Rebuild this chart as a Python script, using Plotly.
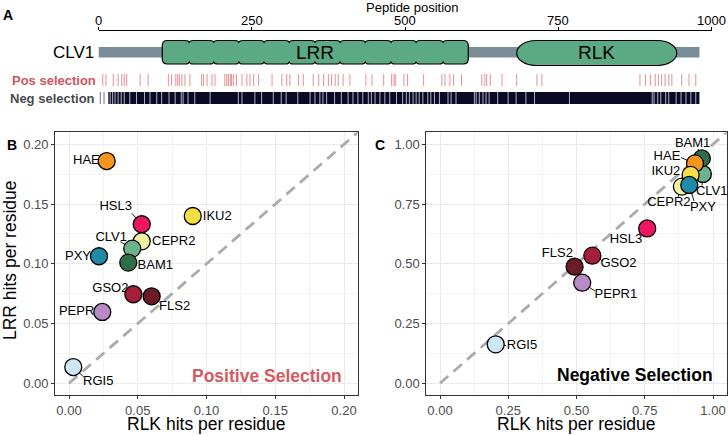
import plotly.graph_objects as go

W, H = 728, 436
FONT = "Liberation Sans, Arial, sans-serif"

# ---------------- data ----------------
genes = ["RGI5", "PEPR1", "FLS2", "GSO2", "HSL3", "CEPR2", "CLV1", "BAM1", "HAE", "IKU2", "PXY"]
gene_colors = ["#CFE6F6", "#B98BC6", "#6B1A26", "#A61F38", "#EF1560", "#F4F1A2",
               "#6CB38B", "#2F6E46", "#F6961C", "#F8DE45", "#1F8BA6"]

pos_rlk = [0.0031, 0.0242, 0.0601, 0.0468, 0.0529, 0.0529, 0.0460, 0.0431, 0.0274, 0.0900, 0.0218]
pos_lrr = [0.0136, 0.0597, 0.0728, 0.0745, 0.1331, 0.1188, 0.1127, 0.1010, 0.1860, 0.1400, 0.1063]

neg_rlk = [0.204, 0.521, 0.493, 0.558, 0.759, 0.886, 0.963, 0.959, 0.934, 0.918, 0.913]
neg_lrr = [0.163, 0.421, 0.488, 0.534, 0.648, 0.823, 0.876, 0.941, 0.920, 0.872, 0.830]

b_ticks = [0.00, 0.05, 0.10, 0.15, 0.20]
c_ticks = [0.00, 0.25, 0.50, 0.75, 1.00]

# panel A: CLV1 protein
protein_name = "CLV1"
protein_length = 980
lrr_domain = (104, 603)
lrr_repeat_junctions = [148, 188, 229, 270, 311, 353, 394, 435, 477, 518, 562]
rlk_domain = (682, 943)
peptide_ticks = [0, 250, 500, 750, 1000]

pos_sites = [7, 12, 24, 32, 38, 42, 46, 68, 81, 114, 119, 126, 129, 132, 136, 141, 149,
             168, 171, 177, 185, 190, 206, 209, 212, 215, 217, 220, 225, 234, 242, 247,
             253, 261, 283, 299, 307, 312, 326, 334, 350, 359, 367, 375, 380, 386, 391,
             399, 410, 436, 446, 465, 478, 482, 484, 498, 504, 530, 560, 565, 573, 579,
             592, 625, 630, 633, 639, 658, 682, 715, 723, 883, 892, 900, 908, 913, 918,
             924, 930, 935, 951, 963, 974]

neg_single = [3, 9]
neg_span = (16, 980)
neg_gaps = [19, 23, 27, 32, 37, 42, 51, 62, 75, 84, 95, 103, 115, 125, 135, 138, 146, 157,
            182, 228, 234, 255, 266, 285, 298, 306, 325, 345, 353, 361, 366, 372, 385, 396,
            407, 415, 423, 431, 440, 445, 451, 459, 467, 475, 486, 496, 502, 507, 513, 518,
            523, 529, 537, 542, 548, 556, 570, 575, 583, 613, 616, 621, 627, 632, 637, 651,
            668, 681, 697, 711, 768, 903, 906, 912, 917, 925, 930, 942, 950, 958, 966, 974]

# ---------------- layout geometry (pixels) ----------------
B_X = (55.25, 357.75); B_RANGE = (-0.01, 0.21)
C_X = (426.35, 726.65); C_RANGE = (-0.05, 1.05)
SC_Y = (132.35, 395.25)
A_X = (98.5, 711.7); A_Y = (31, 110)

# label placement: text-centre offset (dx,dy) and segment end (sx,sy) in px from the point
lab_B = {"RGI5": (25, 15, 10.5, 10), "PEPR1": (-22, 0, None, None), "FLS2": (23, 10.7, 8, 6),
         "GSO2": (-23, -6, None, None), "HSL3": (-26, -17, -10, -11), "CEPR2": (32, 0.7, None, None),
         "CLV1": (-21, -11, -12, -7), "BAM1": (27, 3, None, None), "HAE": (-20.3, 0, None, None),
         "IKU2": (24.5, 1, None, None), "PXY": (-21, 0.7, None, None)}
lab_C = {"RGI5": (26.3, 1.7, 10.3, 1.2), "PEPR1": (33.7, 12.3, 12.7, 8.3), "FLS2": (-17.2, -13.4, -4.7, -8.2),
         "GSO2": (26.2, 7.6, 10.7, 5.3), "HSL3": (-21.3, 11.7, -8.3, 5.2), "CEPR2": (-13, 16.6, -4, 10.8),
         "CLV1": (8.8, 17.8, -0.9, 11.6), "BAM1": (-9.2, -14.6, -3.7, -9.3), "HAE": (-28, -7, -14, -5.8),
         "IKU2": (-24.7, -3, -8.7, -2), "PXY": (13.7, 22.7, 4.7, 16)}


def pxx(p):
    return p / W


def pxy(p):
    return 1 - p / H


fig = go.Figure()


def scatter_panel(xs, ys, xr, yr, xdom, rng, labs, diag_end):
    sx = (xdom[1] - xdom[0]) / (rng[1] - rng[0])
    sy = (SC_Y[1] - SC_Y[0]) / (rng[1] - rng[0])
    fig.add_trace(go.Scatter(x=[0, diag_end], y=[0, diag_end], mode="lines", xaxis=xr, yaxis=yr,
                             line=dict(color="#ABABAB", width=2.8, dash="11px,7px"),
                             hoverinfo="skip", showlegend=False))
    segx, segy, tx, ty = [], [], [], []
    for g, x, y in zip(genes, xs, ys):
        dx, dy, ex, ey = labs[g]
        tx.append(x + dx / sx)
        ty.append(y - dy / sy)
        if ex is not None:
            segx += [x, x + ex / sx, None]
            segy += [y, y - ey / sy, None]
    fig.add_trace(go.Scatter(x=segx, y=segy, mode="lines", xaxis=xr, yaxis=yr,
                             line=dict(color="black", width=0.9), hoverinfo="skip", showlegend=False))
    fig.add_trace(go.Scatter(x=tx, y=ty, text=genes, mode="text", textposition="middle center",
                             xaxis=xr, yaxis=yr, cliponaxis=False,
                             textfont=dict(family=FONT, size=13, color="black"),
                             hoverinfo="skip", showlegend=False))
    fig.add_trace(go.Scatter(x=xs, y=ys, mode="markers", xaxis=xr, yaxis=yr, text=genes,
                             marker=dict(size=17, color=gene_colors, line=dict(color="black", width=1.3)),
                             showlegend=False))


scatter_panel(pos_rlk, pos_lrr, "x", "y", B_X, B_RANGE, lab_B, 0.3)
scatter_panel(neg_rlk, neg_lrr, "x2", "y2", C_X, C_RANGE, lab_C, 1.3)

# ---------------- panel A ----------------
PY0, PY1 = 74, 86
NY0, NY1 = 92, 104
px_, py_ = [], []
for s in pos_sites:
    px_ += [s, s, None]; py_ += [PY0, PY1, None]
fig.add_trace(go.Scatter(x=px_, y=py_, mode="lines", xaxis="x3", yaxis="y3",
                         line=dict(color="rgba(214,88,96,0.6)", width=1.1), hoverinfo="skip", showlegend=False))
nx_, ny_ = [], []
for s in neg_single:
    nx_ += [s, s, None]; ny_ += [NY0, NY1, None]
fig.add_trace(go.Scatter(x=nx_, y=ny_, mode="lines", xaxis="x3", yaxis="y3",
                         line=dict(color="rgba(20,20,50,0.55)", width=1.1), hoverinfo="skip", showlegend=False))
gx_, gy_ = [], []
for s in neg_gaps:
    gx_ += [s, s, None]; gy_ += [NY0, NY1, None]
fig.add_trace(go.Scatter(x=gx_, y=gy_, mode="lines", xaxis="x3", yaxis="y3",
                         line=dict(color="rgba(205,205,225,0.85)", width=1.0), hoverinfo="skip", showlegend=False))

px_per_aa = (A_X[1] - A_X[0]) / 1000.0


def lrr_path(x0, x1, top, bot, junctions):
    rx, ry = 5 / px_per_aa, 5
    nx, ny = 4 / px_per_aa, 2.5
    p = f"M {x0+rx},{top} "
    for j in junctions:
        p += f"L {j-nx},{top} Q {j},{top} {j},{top+ny} Q {j},{top} {j+nx},{top} "
    p += f"L {x1-rx},{top} Q {x1},{top} {x1},{top+ry} L {x1},{bot-ry} Q {x1},{bot} {x1-rx},{bot} "
    for j in reversed(junctions):
        p += f"L {j+nx},{bot} Q {j},{bot} {j},{bot-ny} Q {j},{bot} {j-nx},{bot} "
    p += f"L {x0+rx},{bot} Q {x0},{bot} {x0},{bot-ry} L {x0},{top+ry} Q {x0},{top} {x0+rx},{top} Z"
    return p


def stadium_path(x0, x1, top, bot):
    rx = 19 / px_per_aa
    ry = (bot - top) / 2
    mid = (top + bot) / 2
    k = 0.5523
    return (f"M {x0+rx},{top} L {x1-rx},{top} "
            f"C {x1-rx+k*rx},{top} {x1},{mid-k*ry} {x1},{mid} "
            f"C {x1},{mid+k*ry} {x1-rx+k*rx},{bot} {x1-rx},{bot} "
            f"L {x0+rx},{bot} "
            f"C {x0+rx-k*rx},{bot} {x0},{mid+k*ry} {x0},{mid} "
            f"C {x0},{mid-k*ry} {x0+rx-k*rx},{top} {x0+rx},{top} Z")


shapes = [
    dict(type="rect", xref="x3", yref="y3", x0=0, x1=protein_length, y0=47, y1=57.5,
         fillcolor="#7C8D9A", line=dict(width=0), layer="below"),
    dict(type="path", xref="x3", yref="y3", path=lrr_path(lrr_domain[0], lrr_domain[1], 40.5, 64, lrr_repeat_junctions),
         fillcolor="#5BAA83", line=dict(color="black", width=1.2), layer="below"),
    dict(type="path", xref="x3", yref="y3", path=stadium_path(rlk_domain[0], rlk_domain[1], 40.5, 65.5),
         fillcolor="#5BAA83", line=dict(color="black", width=1.2), layer="below"),
    dict(type="rect", xref="x3", yref="y3", x0=neg_span[0], x1=neg_span[1], y0=NY0, y1=NY1,
         fillcolor="#0A0A24", line=dict(width=0), layer="below"),
]

ann = []


def A(x, y, text, size, color="black", bold=False, xanchor="center", yanchor="middle", xref="paper", yref="paper", angle=0):
    t = f"<b>{text}</b>" if bold else text
    ann.append(dict(x=x, y=y, xref=xref, yref=yref, text=t, showarrow=False, xanchor=xanchor, yanchor=yanchor,
                    textangle=angle, font=dict(family=FONT, size=size, color=color), borderpad=0))


A(pxx(8), pxy(15), "A", 14, bold=True)
A(pxx(12), pxy(145), "B", 14, bold=True)
A(pxx(380), pxy(144.5), "C", 14, bold=True)
A(pxx(412), pxy(7.5), "Peptide position", 13)
for t in peptide_ticks:
    A(t, pxy(20.5), str(t), 13, xref="x3")
A(pxx(95), pxy(52.5), protein_name, 17, xanchor="right")
A((lrr_domain[0] + lrr_domain[1]) / 2, 52.5, "LRR", 19, xref="x3", yref="y3")
A((rlk_domain[0] + rlk_domain[1]) / 2, 53, "RLK", 19, xref="x3", yref="y3")
A(pxx(96.5), pxy(80.5), "Pos selection", 13, color="#D0545C", bold=True, xanchor="right")
A(pxx(95.5), pxy(98), "Neg selection", 13, color="#4A4A4A", bold=True, xanchor="right")
A(pxx(343), pxy(376), "Positive Selection", 17.5, color="#D65A5F", bold=True, xanchor="right")
A(pxx(714), pxy(375), "Negative Selection", 17.5, bold=True, xanchor="right")
A(pxx((B_X[0] + B_X[1]) / 2), pxy(424), "RLK hits per residue", 17.5)
A(pxx((C_X[0] + C_X[1]) / 2), pxy(424), "RLK hits per residue", 17.5)
A(pxx(10), pxy(260), "LRR hits per residue", 17.5, angle=-90)

ax_common = dict(showline=True, mirror=True, linecolor="#333333", linewidth=1.1,
                 ticks="outside", ticklen=3, tickwidth=1, tickcolor="#333333",
                 tickfont=dict(family=FONT, size=13, color="#4D4D4D"), tickformat=".2f",
                 showgrid=True, gridcolor="#EBEBEB", gridwidth=1, zeroline=False)

fig.update_layout(
    width=W, height=H, autosize=False, margin=dict(l=0, r=0, t=0, b=0, pad=0),
    paper_bgcolor="white", plot_bgcolor="white", showlegend=False,
    shapes=shapes, annotations=ann,
    xaxis=dict(domain=[pxx(B_X[0]), pxx(B_X[1])], range=list(B_RANGE), anchor="y", tickvals=b_ticks,
               minor=dict(tickvals=[0.025, 0.075, 0.125, 0.175], showgrid=True, gridcolor="#F3F3F3", gridwidth=0.6, ticks=""),
               **ax_common),
    yaxis=dict(domain=[pxy(SC_Y[1]), pxy(SC_Y[0])], range=list(B_RANGE), anchor="x", tickvals=b_ticks,
               minor=dict(tickvals=[0.025, 0.075, 0.125, 0.175], showgrid=True, gridcolor="#F3F3F3", gridwidth=0.6, ticks=""),
               **ax_common),
    xaxis2=dict(domain=[pxx(C_X[0]), pxx(C_X[1])], range=list(C_RANGE), anchor="y2", tickvals=c_ticks,
                minor=dict(tickvals=[0.125, 0.375, 0.625, 0.875], showgrid=True, gridcolor="#F3F3F3", gridwidth=0.6, ticks=""),
                **ax_common),
    yaxis2=dict(domain=[pxy(SC_Y[1]), pxy(SC_Y[0])], range=list(C_RANGE), anchor="x2", tickvals=c_ticks,
                minor=dict(tickvals=[0.125, 0.375, 0.625, 0.875], showgrid=True, gridcolor="#F3F3F3", gridwidth=0.6, ticks=""),
                **ax_common),
    xaxis3=dict(domain=[pxx(A_X[0]), pxx(A_X[1])], range=[0, 1000], anchor="y3", side="top",
                tickvals=peptide_ticks, showticklabels=False, showline=True, linecolor="black", linewidth=1,
                ticks="outside", ticklen=3, tickcolor="black", showgrid=False, zeroline=False),
    yaxis3=dict(domain=[pxy(A_Y[1]), pxy(A_Y[0])], range=[A_Y[1], A_Y[0]], anchor="x3", visible=False),
    font=dict(family=FONT),
)

# place the figure exactly at the page's top-left corner (no default body margin / scrollbars)
page_fix = ("var s=document.documentElement.style;s.margin='0';s.padding='0';s.overflow='hidden';"
            "var b=document.body.style;b.margin='0';b.padding='0';b.overflow='hidden';"
            "var gd=document.getElementById('{plot_id}');"
            "Plotly.relayout(gd,{width:728,height:436,autosize:false});")

fig.write_html("out.html", post_script=page_fix, config={"displayModeBar": False})
